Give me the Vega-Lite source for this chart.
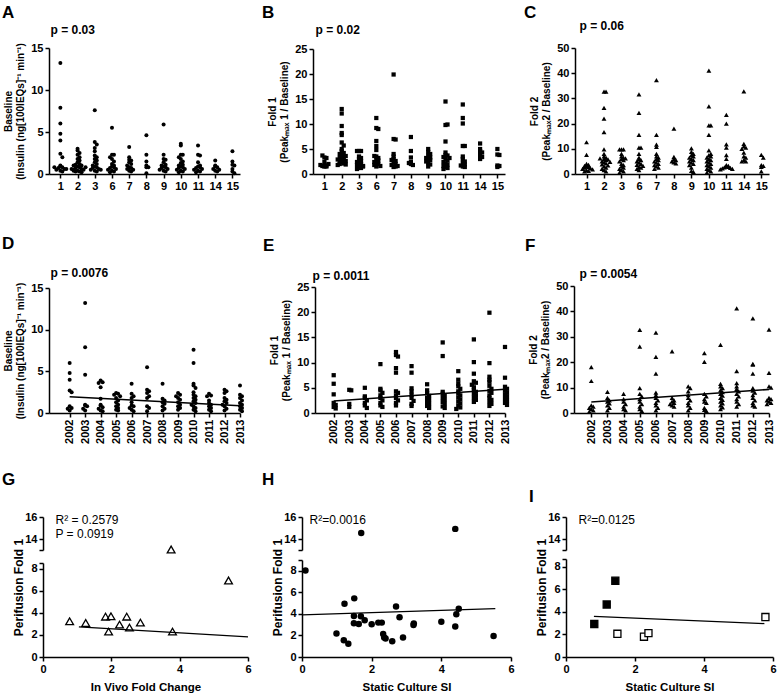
{
"$schema":"https://vega.github.io/schema/vega-lite/v6.json",
"autosize":{"type":"pad"},
"padding":{"left":2,"top":3,"right":0,"bottom":0},
"background":"white",
"config":{
 "font":"Liberation Sans",
 "view":{"stroke":null},
 "axis":{"grid":false,"domainColor":"black","domainWidth":1.5,"tickColor":"black","tickWidth":1.5,"tickSize":4,"labelFont":"Liberation Sans","labelFontSize":11,"labelFontWeight":"bold","labelColor":"black","labelPadding":2,"labelFlush":false,"labelOverlap":false,"titleFont":"Liberation Sans","titleFontSize":10,"titleFontWeight":"bold","titleColor":"black","titlePadding":5},
 "title":{"font":"Liberation Sans","fontWeight":"bold","color":"black","anchor":"start","frame":"group","baseline":"alphabetic","fontSize":17}
},
"datasets":{
"A":[{"c":"1","v":13.2},{"c":"1","v":7.9},{"c":"1","v":6.0},{"c":"1","v":4.8},{"c":"1","v":4.0},{"c":"1","v":2.4},{"c":"1","v":2.0},{"c":"1","v":1.0},{"c":"1","v":0.9},{"c":"1","v":0.8},{"c":"1","v":0.7},{"c":"1","v":0.6},{"c":"1","v":0.5},{"c":"1","v":0.4},{"c":"1","v":0.3},{"c":"1","v":0.6},{"c":"1","v":0.8},
{"c":"2","v":3.0},{"c":"2","v":2.8},{"c":"2","v":2.5},{"c":"2","v":2.3},{"c":"2","v":2.0},{"c":"2","v":1.8},{"c":"2","v":1.6},{"c":"2","v":1.4},{"c":"2","v":1.2},{"c":"2","v":1.1},{"c":"2","v":1.0},{"c":"2","v":0.9},{"c":"2","v":0.8},{"c":"2","v":0.7},{"c":"2","v":0.6},{"c":"2","v":0.5},{"c":"2","v":0.5},{"c":"2","v":0.4},{"c":"2","v":0.3},{"c":"2","v":0.3},{"c":"2","v":0.2},{"c":"2","v":0.6},{"c":"2","v":0.8},{"c":"2","v":1.0},{"c":"2","v":0.4},
{"c":"3","v":7.6},{"c":"3","v":3.8},{"c":"3","v":3.5},{"c":"3","v":3.1},{"c":"3","v":2.7},{"c":"3","v":2.2},{"c":"3","v":2.0},{"c":"3","v":1.8},{"c":"3","v":1.6},{"c":"3","v":1.4},{"c":"3","v":1.2},{"c":"3","v":1.0},{"c":"3","v":0.9},{"c":"3","v":0.8},{"c":"3","v":0.7},{"c":"3","v":0.6},{"c":"3","v":0.5},{"c":"3","v":0.4},{"c":"3","v":0.3},{"c":"3","v":0.5},
{"c":"6","v":5.5},{"c":"6","v":2.3},{"c":"6","v":2.3},{"c":"6","v":2.0},{"c":"6","v":1.8},{"c":"6","v":1.5},{"c":"6","v":1.2},{"c":"6","v":1.0},{"c":"6","v":0.9},{"c":"6","v":0.8},{"c":"6","v":0.7},{"c":"6","v":0.6},{"c":"6","v":0.5},{"c":"6","v":0.4},{"c":"6","v":0.3},{"c":"6","v":0.2},
{"c":"7","v":3.2},{"c":"7","v":2.0},{"c":"7","v":1.7},{"c":"7","v":1.6},{"c":"7","v":1.4},{"c":"7","v":1.2},{"c":"7","v":1.0},{"c":"7","v":0.8},{"c":"7","v":0.7},{"c":"7","v":0.6},{"c":"7","v":0.5},{"c":"7","v":0.4},{"c":"7","v":0.3},
{"c":"8","v":4.6},{"c":"8","v":2.3},{"c":"8","v":1.5},{"c":"8","v":1.0},{"c":"8","v":0.8},{"c":"8","v":0.8},{"c":"8","v":0.1},
{"c":"9","v":5.9},{"c":"9","v":2.3},{"c":"9","v":1.8},{"c":"9","v":1.7},{"c":"9","v":1.4},{"c":"9","v":1.1},{"c":"9","v":1.0},{"c":"9","v":0.9},{"c":"9","v":0.8},{"c":"9","v":0.7},{"c":"9","v":0.6},{"c":"9","v":0.5},{"c":"9","v":0.4},{"c":"9","v":0.3},
{"c":"10","v":3.6},{"c":"10","v":3.4},{"c":"10","v":2.3},{"c":"10","v":2.3},{"c":"10","v":2.0},{"c":"10","v":1.8},{"c":"10","v":1.5},{"c":"10","v":1.3},{"c":"10","v":1.1},{"c":"10","v":1.0},{"c":"10","v":0.9},{"c":"10","v":0.8},{"c":"10","v":0.7},{"c":"10","v":0.6},{"c":"10","v":0.5},{"c":"10","v":0.4},{"c":"10","v":0.3},{"c":"10","v":0.2},
{"c":"11","v":3.4},{"c":"11","v":2.3},{"c":"11","v":2.2},{"c":"11","v":1.4},{"c":"11","v":1.0},{"c":"11","v":0.9},{"c":"11","v":0.8},{"c":"11","v":0.7},{"c":"11","v":0.6},{"c":"11","v":0.5},{"c":"11","v":0.4},{"c":"11","v":0.3},{"c":"11","v":0.2},
{"c":"14","v":1.6},{"c":"14","v":1.0},{"c":"14","v":0.9},{"c":"14","v":0.8},{"c":"14","v":0.6},{"c":"14","v":0.5},{"c":"14","v":0.4},{"c":"14","v":0.3},
{"c":"15","v":2.7},{"c":"15","v":1.5},{"c":"15","v":1.1},{"c":"15","v":1.0},{"c":"15","v":0.6},{"c":"15","v":0.3},{"c":"15","v":0.1}],
"B":[{"c":"1","v":3.3},{"c":"1","v":3.2},{"c":"1","v":3.7},{"c":"1","v":1.5},{"c":"1","v":1.6},{"c":"1","v":1.7},{"c":"1","v":1.5},{"c":"1","v":1.6},{"c":"1","v":2.0},{"c":"1","v":1.8},{"c":"1","v":2.4},
{"c":"2","v":13.0},{"c":"2","v":12.1},{"c":"2","v":9.6},{"c":"2","v":8.2},{"c":"2","v":7.8},{"c":"2","v":6.3},{"c":"2","v":5.7},{"c":"2","v":5.0},{"c":"2","v":4.6},{"c":"2","v":4.2},{"c":"2","v":3.8},{"c":"2","v":3.5},{"c":"2","v":3.2},{"c":"2","v":3.0},{"c":"2","v":2.8},{"c":"2","v":2.5},{"c":"2","v":2.3},{"c":"2","v":2.1},{"c":"2","v":2.0},{"c":"2","v":1.9},{"c":"2","v":1.8},{"c":"2","v":3.6},{"c":"2","v":2.6},{"c":"2","v":4.0},{"c":"2","v":2.9},
{"c":"3","v":4.6},{"c":"3","v":4.6},{"c":"3","v":4.6},{"c":"3","v":3.5},{"c":"3","v":3.0},{"c":"3","v":2.6},{"c":"3","v":2.2},{"c":"3","v":2.0},{"c":"3","v":1.8},{"c":"3","v":1.6},{"c":"3","v":1.4},{"c":"3","v":1.2},{"c":"3","v":1.0},{"c":"3","v":1.5},{"c":"3","v":2.4},{"c":"3","v":3.2},
{"c":"6","v":11.2},{"c":"6","v":9.2},{"c":"6","v":9.0},{"c":"6","v":6.6},{"c":"6","v":5.6},{"c":"6","v":4.8},{"c":"6","v":3.5},{"c":"6","v":3.2},{"c":"6","v":3.0},{"c":"6","v":2.7},{"c":"6","v":2.4},{"c":"6","v":2.2},{"c":"6","v":2.0},{"c":"6","v":1.8},{"c":"6","v":1.6},{"c":"6","v":1.5},{"c":"6","v":3.6},
{"c":"7","v":19.9},{"c":"7","v":7.0},{"c":"7","v":6.9},{"c":"7","v":4.0},{"c":"7","v":3.5},{"c":"7","v":3.0},{"c":"7","v":2.6},{"c":"7","v":2.3},{"c":"7","v":2.0},{"c":"7","v":1.8},{"c":"7","v":1.6},{"c":"7","v":1.4},{"c":"7","v":1.5},{"c":"7","v":2.8},
{"c":"8","v":7.4},{"c":"8","v":4.6},{"c":"8","v":3.3},{"c":"8","v":2.4},{"c":"8","v":2.0},{"c":"8","v":1.8},{"c":"8","v":2.2},
{"c":"9","v":5.0},{"c":"9","v":4.4},{"c":"9","v":4.0},{"c":"9","v":3.6},{"c":"9","v":3.3},{"c":"9","v":3.0},{"c":"9","v":2.8},{"c":"9","v":2.5},{"c":"9","v":2.2},{"c":"9","v":1.9},{"c":"9","v":1.5},{"c":"9","v":3.2},
{"c":"10","v":14.5},{"c":"10","v":9.8},{"c":"10","v":9.9},{"c":"10","v":6.5},{"c":"10","v":4.3},{"c":"10","v":3.8},{"c":"10","v":3.7},{"c":"10","v":3.4},{"c":"10","v":3.0},{"c":"10","v":2.7},{"c":"10","v":2.4},{"c":"10","v":2.1},{"c":"10","v":1.9},{"c":"10","v":1.6},{"c":"10","v":1.4},{"c":"10","v":1.2},{"c":"10","v":1.0},{"c":"10","v":3.2},
{"c":"11","v":13.9},{"c":"11","v":11.2},{"c":"11","v":10.1},{"c":"11","v":5.6},{"c":"11","v":5.6},{"c":"11","v":3.5},{"c":"11","v":3.0},{"c":"11","v":2.5},{"c":"11","v":2.2},{"c":"11","v":1.9},{"c":"11","v":1.7},{"c":"11","v":1.5},{"c":"11","v":1.4},
{"c":"14","v":6.1},{"c":"14","v":5.0},{"c":"14","v":4.6},{"c":"14","v":4.3},{"c":"14","v":3.8},{"c":"14","v":3.4},{"c":"14","v":3.0},
{"c":"15","v":5.0},{"c":"15","v":3.9},{"c":"15","v":3.8},{"c":"15","v":1.7},{"c":"15","v":1.6},{"c":"15","v":1.4}],
"C":[{"c":"1","v":12.6},{"c":"1","v":7.6},{"c":"1","v":4.0},{"c":"1","v":3.6},{"c":"1","v":3.2},{"c":"1","v":3.0},{"c":"1","v":2.8},{"c":"1","v":2.5},{"c":"1","v":2.2},{"c":"1","v":2.0},{"c":"1","v":1.8},{"c":"1","v":1.5},{"c":"1","v":1.2},{"c":"1","v":1.0},
{"c":"2","v":32.7},{"c":"2","v":32.7},{"c":"2","v":26.2},{"c":"2","v":22.0},{"c":"2","v":16.6},{"c":"2","v":9.8},{"c":"2","v":8.0},{"c":"2","v":7.0},{"c":"2","v":6.5},{"c":"2","v":6.0},{"c":"2","v":5.5},{"c":"2","v":5.0},{"c":"2","v":4.6},{"c":"2","v":4.2},{"c":"2","v":3.8},{"c":"2","v":3.4},{"c":"2","v":3.0},{"c":"2","v":2.5},{"c":"2","v":2.0},{"c":"2","v":1.5},{"c":"2","v":1.0},{"c":"2","v":5.8},{"c":"2","v":6.2},{"c":"2","v":4.8},
{"c":"3","v":9.8},{"c":"3","v":9.8},{"c":"3","v":9.8},{"c":"3","v":8.0},{"c":"3","v":7.0},{"c":"3","v":6.5},{"c":"3","v":6.0},{"c":"3","v":5.5},{"c":"3","v":5.0},{"c":"3","v":4.0},{"c":"3","v":3.5},{"c":"3","v":3.0},{"c":"3","v":2.5},{"c":"3","v":2.0},{"c":"3","v":1.5},{"c":"3","v":1.0},{"c":"3","v":0.5},{"c":"3","v":6.2},
{"c":"6","v":31.6},{"c":"6","v":24.3},{"c":"6","v":15.5},{"c":"6","v":10.5},{"c":"6","v":10.5},{"c":"6","v":8.0},{"c":"6","v":6.5},{"c":"6","v":6.0},{"c":"6","v":5.5},{"c":"6","v":5.0},{"c":"6","v":4.5},{"c":"6","v":4.0},{"c":"6","v":3.6},{"c":"6","v":3.2},{"c":"6","v":2.8},{"c":"6","v":2.5},{"c":"6","v":2.0},{"c":"6","v":1.5},
{"c":"7","v":37.3},{"c":"7","v":15.5},{"c":"7","v":11.7},{"c":"7","v":10.8},{"c":"7","v":8.0},{"c":"7","v":7.0},{"c":"7","v":6.5},{"c":"7","v":6.0},{"c":"7","v":5.5},{"c":"7","v":5.0},{"c":"7","v":4.5},{"c":"7","v":4.0},{"c":"7","v":3.5},{"c":"7","v":3.0},{"c":"7","v":2.5},{"c":"7","v":2.0},
{"c":"8","v":18.0},{"c":"8","v":6.8},{"c":"8","v":6.0},{"c":"8","v":5.5},{"c":"8","v":5.0},{"c":"8","v":4.6},{"c":"8","v":4.2},
{"c":"9","v":10.2},{"c":"9","v":8.8},{"c":"9","v":8.0},{"c":"9","v":7.5},{"c":"9","v":7.0},{"c":"9","v":6.5},{"c":"9","v":6.0},{"c":"9","v":5.5},{"c":"9","v":5.0},{"c":"9","v":4.5},{"c":"9","v":4.0},{"c":"9","v":3.5},{"c":"9","v":2.5},{"c":"9","v":1.2},{"c":"9","v":0.8},
{"c":"10","v":41.0},{"c":"10","v":26.8},{"c":"10","v":19.3},{"c":"10","v":19.3},{"c":"10","v":15.5},{"c":"10","v":9.4},{"c":"10","v":8.0},{"c":"10","v":7.5},{"c":"10","v":7.0},{"c":"10","v":6.5},{"c":"10","v":6.0},{"c":"10","v":5.5},{"c":"10","v":5.0},{"c":"10","v":4.5},{"c":"10","v":4.0},{"c":"10","v":3.5},{"c":"10","v":3.0},{"c":"10","v":2.5},{"c":"10","v":2.0},{"c":"10","v":1.5},{"c":"10","v":1.0},{"c":"10","v":0.5},
{"c":"11","v":23.5},{"c":"11","v":20.0},{"c":"11","v":11.8},{"c":"11","v":10.5},{"c":"11","v":7.5},{"c":"11","v":6.0},{"c":"11","v":3.5},{"c":"11","v":3.2},{"c":"11","v":3.0},{"c":"11","v":2.8},{"c":"11","v":2.6},{"c":"11","v":2.4},{"c":"11","v":2.2},{"c":"11","v":2.0},{"c":"11","v":1.8},
{"c":"14","v":32.8},{"c":"14","v":12.0},{"c":"14","v":11.0},{"c":"14","v":10.5},{"c":"14","v":10.0},{"c":"14","v":8.5},{"c":"14","v":7.0},{"c":"14","v":6.5},{"c":"14","v":5.5},{"c":"14","v":5.0},{"c":"14","v":5.0},
{"c":"15","v":7.6},{"c":"15","v":6.5},{"c":"15","v":3.5},{"c":"15","v":3.2},{"c":"15","v":2.8},{"c":"15","v":1.0}],
"D":[{"yr":2002,"v":6.0},{"yr":2002,"v":4.8},{"yr":2002,"v":4.0},{"yr":2002,"v":2.7},{"yr":2002,"v":2.5},{"yr":2002,"v":0.8},{"yr":2002,"v":0.6},{"yr":2002,"v":0.5},{"yr":2002,"v":0.3},
{"yr":2003,"v":13.2},{"yr":2003,"v":7.9},{"yr":2003,"v":4.6},{"yr":2003,"v":1.0},{"yr":2003,"v":0.9},{"yr":2003,"v":0.8},{"yr":2003,"v":0.5},{"yr":2003,"v":0.3},
{"yr":2004,"v":3.9},{"yr":2004,"v":3.7},{"yr":2004,"v":3.6},{"yr":2004,"v":3.1},{"yr":2004,"v":1.7},{"yr":2004,"v":1.0},{"yr":2004,"v":0.9},{"yr":2004,"v":0.7},{"yr":2004,"v":0.5},{"yr":2004,"v":0.3},{"yr":2004,"v":0.2},
{"yr":2005,"v":2.4},{"yr":2005,"v":2.3},{"yr":2005,"v":2.2},{"yr":2005,"v":2.0},{"yr":2005,"v":1.8},{"yr":2005,"v":1.5},{"yr":2005,"v":1.3},{"yr":2005,"v":1.0},{"yr":2005,"v":0.8},{"yr":2005,"v":0.6},{"yr":2005,"v":0.4},{"yr":2005,"v":0.3},
{"yr":2006,"v":3.5},{"yr":2006,"v":2.3},{"yr":2006,"v":2.0},{"yr":2006,"v":1.8},{"yr":2006,"v":1.3},{"yr":2006,"v":0.9},{"yr":2006,"v":0.8},{"yr":2006,"v":0.6},{"yr":2006,"v":0.4},{"yr":2006,"v":0.2},
{"yr":2007,"v":5.5},{"yr":2007,"v":2.8},{"yr":2007,"v":2.6},{"yr":2007,"v":2.4},{"yr":2007,"v":2.0},{"yr":2007,"v":1.8},{"yr":2007,"v":0.8},{"yr":2007,"v":0.6},{"yr":2007,"v":0.2},
{"yr":2008,"v":3.5},{"yr":2008,"v":1.7},{"yr":2008,"v":1.5},{"yr":2008,"v":1.3},{"yr":2008,"v":1.1},{"yr":2008,"v":0.8},{"yr":2008,"v":0.5},{"yr":2008,"v":0.3},
{"yr":2009,"v":2.4},{"yr":2009,"v":2.2},{"yr":2009,"v":2.0},{"yr":2009,"v":1.8},{"yr":2009,"v":1.6},{"yr":2009,"v":1.3},{"yr":2009,"v":1.0},{"yr":2009,"v":0.8},{"yr":2009,"v":0.6},{"yr":2009,"v":0.4},
{"yr":2010,"v":7.6},{"yr":2010,"v":6.0},{"yr":2010,"v":3.5},{"yr":2010,"v":3.3},{"yr":2010,"v":3.0},{"yr":2010,"v":2.5},{"yr":2010,"v":2.2},{"yr":2010,"v":2.0},{"yr":2010,"v":1.8},{"yr":2010,"v":1.6},{"yr":2010,"v":1.4},{"yr":2010,"v":1.2},{"yr":2010,"v":1.0},{"yr":2010,"v":0.8},{"yr":2010,"v":0.6},{"yr":2010,"v":0.4},{"yr":2010,"v":0.2},
{"yr":2011,"v":2.3},{"yr":2011,"v":2.1},{"yr":2011,"v":2.0},{"yr":2011,"v":1.5},{"yr":2011,"v":1.2},{"yr":2011,"v":1.0},{"yr":2011,"v":0.8},{"yr":2011,"v":0.6},{"yr":2011,"v":0.4},{"yr":2011,"v":0.2},
{"yr":2012,"v":2.8},{"yr":2012,"v":2.6},{"yr":2012,"v":2.4},{"yr":2012,"v":1.8},{"yr":2012,"v":1.6},{"yr":2012,"v":1.4},{"yr":2012,"v":1.2},{"yr":2012,"v":1.0},{"yr":2012,"v":0.8},{"yr":2012,"v":0.5},{"yr":2012,"v":0.3},
{"yr":2013,"v":3.3},{"yr":2013,"v":2.2},{"yr":2013,"v":2.0},{"yr":2013,"v":1.8},{"yr":2013,"v":1.5},{"yr":2013,"v":1.2},{"yr":2013,"v":1.0},{"yr":2013,"v":0.8},{"yr":2013,"v":0.6},{"yr":2013,"v":0.4},{"yr":2013,"v":0.2}],
"E":[{"yr":2002,"v":7.5},{"yr":2002,"v":5.8},{"yr":2002,"v":3.7},{"yr":2002,"v":2.0},{"yr":2002,"v":1.6},{"yr":2002,"v":1.2},{"yr":2002,"v":0.9},
{"yr":2003,"v":4.6},{"yr":2003,"v":4.5},{"yr":2003,"v":1.8},{"yr":2003,"v":1.2},
{"yr":2004,"v":5.0},{"yr":2004,"v":3.3},{"yr":2004,"v":3.0},{"yr":2004,"v":2.5},{"yr":2004,"v":2.0},{"yr":2004,"v":1.5},{"yr":2004,"v":1.0},
{"yr":2005,"v":9.7},{"yr":2005,"v":4.8},{"yr":2005,"v":4.5},{"yr":2005,"v":4.0},{"yr":2005,"v":3.5},{"yr":2005,"v":3.0},{"yr":2005,"v":2.5},{"yr":2005,"v":2.0},{"yr":2005,"v":1.5},{"yr":2005,"v":1.2},
{"yr":2006,"v":12.1},{"yr":2006,"v":11.5},{"yr":2006,"v":11.2},{"yr":2006,"v":8.9},{"yr":2006,"v":8.0},{"yr":2006,"v":4.3},{"yr":2006,"v":4.0},{"yr":2006,"v":3.5},{"yr":2006,"v":3.0},{"yr":2006,"v":2.5},{"yr":2006,"v":2.0},{"yr":2006,"v":1.5},
{"yr":2007,"v":9.3},{"yr":2007,"v":8.0},{"yr":2007,"v":4.9},{"yr":2007,"v":4.3},{"yr":2007,"v":3.6},{"yr":2007,"v":3.0},{"yr":2007,"v":2.4},{"yr":2007,"v":1.8},{"yr":2007,"v":1.4},
{"yr":2008,"v":5.7},{"yr":2008,"v":4.5},{"yr":2008,"v":3.9},{"yr":2008,"v":3.4},{"yr":2008,"v":3.0},{"yr":2008,"v":2.6},{"yr":2008,"v":2.2},{"yr":2008,"v":1.8},{"yr":2008,"v":1.4},{"yr":2008,"v":1.0},
{"yr":2009,"v":14.0},{"yr":2009,"v":11.3},{"yr":2009,"v":4.2},{"yr":2009,"v":3.8},{"yr":2009,"v":3.4},{"yr":2009,"v":3.0},{"yr":2009,"v":2.6},{"yr":2009,"v":2.2},{"yr":2009,"v":1.8},{"yr":2009,"v":1.3},{"yr":2009,"v":1.0},
{"yr":2010,"v":8.3},{"yr":2010,"v":6.6},{"yr":2010,"v":5.8},{"yr":2010,"v":5.3},{"yr":2010,"v":4.8},{"yr":2010,"v":4.3},{"yr":2010,"v":3.9},{"yr":2010,"v":3.5},{"yr":2010,"v":3.1},{"yr":2010,"v":2.7},{"yr":2010,"v":2.3},{"yr":2010,"v":1.9},{"yr":2010,"v":1.5},{"yr":2010,"v":1.1},{"yr":2010,"v":0.8},
{"yr":2011,"v":14.6},{"yr":2011,"v":10.1},{"yr":2011,"v":7.8},{"yr":2011,"v":6.3},{"yr":2011,"v":6.0},{"yr":2011,"v":5.6},{"yr":2011,"v":5.1},{"yr":2011,"v":4.6},{"yr":2011,"v":4.2},{"yr":2011,"v":3.8},{"yr":2011,"v":3.4},{"yr":2011,"v":3.0},{"yr":2011,"v":2.6},{"yr":2011,"v":2.2},
{"yr":2012,"v":19.9},{"yr":2012,"v":9.9},{"yr":2012,"v":7.2},{"yr":2012,"v":6.6},{"yr":2012,"v":6.2},{"yr":2012,"v":5.4},{"yr":2012,"v":4.8},{"yr":2012,"v":4.4},{"yr":2012,"v":4.0},{"yr":2012,"v":3.5},{"yr":2012,"v":3.0},{"yr":2012,"v":2.6},{"yr":2012,"v":2.2},{"yr":2012,"v":1.8},{"yr":2012,"v":1.4},
{"yr":2013,"v":13.1},{"yr":2013,"v":7.0},{"yr":2013,"v":5.2},{"yr":2013,"v":4.8},{"yr":2013,"v":4.4},{"yr":2013,"v":4.0},{"yr":2013,"v":3.6},{"yr":2013,"v":3.2},{"yr":2013,"v":2.8},{"yr":2013,"v":2.4},{"yr":2013,"v":2.0},{"yr":2013,"v":1.6}],
"F":[{"yr":2002,"v":18.1},{"yr":2002,"v":12.6},{"yr":2002,"v":3.0},{"yr":2002,"v":2.5},{"yr":2002,"v":2.0},{"yr":2002,"v":1.5},{"yr":2002,"v":1.0},{"yr":2002,"v":0.5},
{"yr":2003,"v":8.3},{"yr":2003,"v":6.0},{"yr":2003,"v":5.0},{"yr":2003,"v":4.5},{"yr":2003,"v":3.8},{"yr":2003,"v":3.0},{"yr":2003,"v":2.0},{"yr":2003,"v":1.0},
{"yr":2004,"v":7.5},{"yr":2004,"v":5.5},{"yr":2004,"v":4.5},{"yr":2004,"v":3.5},{"yr":2004,"v":2.5},{"yr":2004,"v":1.5},{"yr":2004,"v":1.0},
{"yr":2005,"v":32.7},{"yr":2005,"v":26.1},{"yr":2005,"v":9.8},{"yr":2005,"v":7.5},{"yr":2005,"v":6.5},{"yr":2005,"v":5.5},{"yr":2005,"v":4.5},{"yr":2005,"v":3.5},{"yr":2005,"v":2.5},{"yr":2005,"v":1.5},{"yr":2005,"v":0.8},
{"yr":2006,"v":31.6},{"yr":2006,"v":22.1},{"yr":2006,"v":15.5},{"yr":2006,"v":8.0},{"yr":2006,"v":7.0},{"yr":2006,"v":6.0},{"yr":2006,"v":5.0},{"yr":2006,"v":4.0},{"yr":2006,"v":3.0},{"yr":2006,"v":2.0},{"yr":2006,"v":1.0},
{"yr":2007,"v":24.3},{"yr":2007,"v":6.0},{"yr":2007,"v":5.0},{"yr":2007,"v":4.5},{"yr":2007,"v":4.0},{"yr":2007,"v":3.5},{"yr":2007,"v":3.0},{"yr":2007,"v":2.5},
{"yr":2008,"v":10.5},{"yr":2008,"v":9.8},{"yr":2008,"v":8.5},{"yr":2008,"v":7.0},{"yr":2008,"v":6.0},{"yr":2008,"v":5.0},{"yr":2008,"v":4.0},{"yr":2008,"v":3.0},{"yr":2008,"v":2.0},{"yr":2008,"v":1.0},
{"yr":2009,"v":23.6},{"yr":2009,"v":20.1},{"yr":2009,"v":7.5},{"yr":2009,"v":6.5},{"yr":2009,"v":5.5},{"yr":2009,"v":4.5},{"yr":2009,"v":4.0},{"yr":2009,"v":2.0},{"yr":2009,"v":1.2},{"yr":2009,"v":0.8},
{"yr":2010,"v":26.8},{"yr":2010,"v":11.5},{"yr":2010,"v":10.5},{"yr":2010,"v":9.8},{"yr":2010,"v":9.0},{"yr":2010,"v":8.2},{"yr":2010,"v":7.5},{"yr":2010,"v":6.8},{"yr":2010,"v":6.0},{"yr":2010,"v":5.2},{"yr":2010,"v":4.5},{"yr":2010,"v":3.8},{"yr":2010,"v":3.0},{"yr":2010,"v":2.2},{"yr":2010,"v":1.5},
{"yr":2011,"v":41.2},{"yr":2011,"v":16.5},{"yr":2011,"v":11.8},{"yr":2011,"v":10.5},{"yr":2011,"v":9.5},{"yr":2011,"v":8.5},{"yr":2011,"v":7.5},{"yr":2011,"v":6.5},{"yr":2011,"v":5.5},{"yr":2011,"v":4.5},{"yr":2011,"v":3.5},{"yr":2011,"v":2.5},
{"yr":2012,"v":37.3},{"yr":2012,"v":19.3},{"yr":2012,"v":19.0},{"yr":2012,"v":15.5},{"yr":2012,"v":9.8},{"yr":2012,"v":8.8},{"yr":2012,"v":8.0},{"yr":2012,"v":7.0},{"yr":2012,"v":6.0},{"yr":2012,"v":5.0},{"yr":2012,"v":4.0},{"yr":2012,"v":3.0},{"yr":2012,"v":2.5},
{"yr":2013,"v":32.8},{"yr":2013,"v":15.8},{"yr":2013,"v":10.5},{"yr":2013,"v":10.0},{"yr":2013,"v":6.0},{"yr":2013,"v":5.5},{"yr":2013,"v":5.0},{"yr":2013,"v":4.5},{"yr":2013,"v":4.0},{"yr":2013,"v":3.5}],
"Dl":[{"yr":2002,"v":1.96},{"yr":2013,"v":0.88}],
"El":[{"yr":2002,"v":2.38},{"yr":2013,"v":4.7}],
"Fl":[{"yr":2002,"v":4.33},{"yr":2013,"v":9.3}],
"G":[{"x":0.78,"y":3.23},{"x":1.25,"y":3.08},{"x":1.83,"y":3.65},{"x":1.99,"y":3.68},{"x":1.92,"y":2.3},{"x":2.24,"y":2.93},{"x":2.45,"y":3.65},{"x":2.53,"y":2.66},{"x":2.85,"y":3.11},{"x":3.79,"y":2.3},{"x":5.43,"y":6.92},{"x":3.75,"y":13.05}],
"Gl":[{"x":1.05,"y":2.72},{"x":6,"y":1.82}],
"H":[{"x":0.1,"y":8.03},{"x":1.22,"y":4.94},{"x":1.5,"y":5.44},{"x":0.99,"y":2.19},{"x":1.2,"y":1.56},{"x":1.33,"y":1.22},{"x":1.49,"y":3.81},{"x":1.49,"y":3.13},{"x":1.63,"y":3.06},{"x":1.69,"y":3.78},{"x":1.8,"y":3.4},{"x":2.0,"y":3.03},{"x":2.19,"y":3.19},{"x":2.29,"y":3.19},{"x":2.33,"y":2.13},{"x":2.36,"y":1.81},{"x":2.4,"y":1.72},{"x":2.59,"y":1.47},{"x":2.7,"y":4.69},{"x":2.8,"y":3.69},{"x":2.9,"y":1.81},{"x":3.2,"y":2.97},{"x":3.21,"y":3.1},{"x":4.0,"y":3.28},{"x":4.4,"y":2.84},{"x":4.43,"y":3.97},{"x":4.5,"y":4.47},{"x":5.5,"y":1.94},{"x":1.7,"y":14.54},{"x":4.4,"y":14.92}],
"Hl":[{"x":0,"y":3.9},{"x":5.55,"y":4.48}],
"I":[{"x":0.82,"y":2.93,"f":"filled"},{"x":1.18,"y":4.66,"f":"filled"},{"x":1.43,"y":6.77,"f":"filled"},{"x":1.49,"y":2.06,"f":"open"},{"x":2.26,"y":1.8,"f":"open"},{"x":2.39,"y":2.12,"f":"open"},{"x":5.78,"y":3.55,"f":"open"}],
"Il":[{"x":0.81,"y":3.6},{"x":5.75,"y":2.97}]
},
"bounds":"flush",
"columns":3,
"spacing":{"row":104,"column":50},
"concat":[
 {"width":209,"height":126,"title":{"text":"A","dx":-41,"offset":1.4},
  "data":{"name":"A"},
  "transform":[{"bin":{"step":0.5},"field":"v","as":"b"},{"window":[{"op":"row_number","as":"r"}],"groupby":["c","b"]}],
  "mark":{"type":"circle","size":16,"color":"black","opacity":1,"clip":false},
  "encoding":{
   "x":{"field":"c","type":"ordinal","scale":{"type":"point","domain":["1","2","3","6","7","8","9","10","11","14","15"],"range":[6,197],"padding":0.55,"align":0.6},"axis":{"labelAngle":0,"title":"p = 0.03","titleFontSize":12,"titleX":7,"titleY":-141,"titleAngle":0,"titleAlign":"left","titleBaseline":"alphabetic"}},
   "xOffset":{"field":"r","type":"ordinal","scale":{"domain":[13,11,9,7,5,3,1,2,4,6,8,10,12],"range":[-13,13]}},
   "y":{"field":"v","type":"quantitative","scale":{"domain":[0,15],"nice":false},"axis":{"offset":-6,"values":[0,5,10,15],"title":["Baseline","(Insulin (ng[100IEQs]⁻¹ min⁻¹)"]}}}},
 {"width":214,"height":126,"title":{"text":"B","dx":-40,"offset":1.4},
  "data":{"name":"B"},
  "transform":[{"bin":{"step":0.8},"field":"v","as":"b"},{"window":[{"op":"row_number","as":"r"}],"groupby":["c","b"]}],
  "mark":{"type":"square","size":18,"color":"black","opacity":1,"clip":false},
  "encoding":{
   "x":{"field":"c","type":"ordinal","scale":{"type":"point","domain":["1","2","3","6","7","8","9","10","11","14","15"],"range":[11,203],"padding":0.55,"align":0.6},"axis":{"labelAngle":0,"title":"p = 0.02","titleFontSize":12,"titleX":13,"titleY":-141,"titleAngle":0,"titleAlign":"left","titleBaseline":"alphabetic"}},
   "xOffset":{"field":"r","type":"ordinal","scale":{"domain":[13,11,9,7,5,3,1,2,4,6,8,10,12],"range":[-13,13]}},
   "y":{"field":"v","type":"quantitative","scale":{"domain":[0,25],"nice":false,"range":[126,1]},"axis":{"offset":-11,"values":[0,5,10,15,20,25],"title":["Fold 1","(Peakₘₐₓ 1 / Baseline)"]}}}},
 {"width":207,"height":126,"title":{"text":"C","dx":-42,"offset":-2.6},
  "data":{"name":"C"},
  "transform":[{"bin":{"step":1.6},"field":"v","as":"b"},{"window":[{"op":"row_number","as":"r"}],"groupby":["c","b"]}],
  "mark":{"type":"point","shape":"triangle-up","filled":true,"size":24,"color":"black","opacity":1,"clip":false},
  "encoding":{
   "x":{"field":"c","type":"ordinal","scale":{"type":"point","domain":["1","2","3","6","7","8","9","10","11","14","15"],"range":[9,203],"padding":0.55,"align":0.6},"axis":{"labelAngle":0,"title":"p = 0.06","titleFontSize":12,"titleX":13,"titleY":-145,"titleAngle":0,"titleAlign":"left","titleBaseline":"alphabetic"}},
   "xOffset":{"field":"r","type":"ordinal","scale":{"domain":[13,11,9,7,5,3,1,2,4,6,8,10,12],"range":[-13,13]}},
   "y":{"field":"v","type":"quantitative","scale":{"domain":[0,50],"nice":false},"axis":{"offset":-9,"values":[0,10,20,30,40,50],"title":["Fold 2","(Peakₘₐₓ2 / Baseline)"]}}}},
 {"width":209,"height":135,"title":{"text":"D","dx":-41,"offset":13.4},
  "encoding":{
   "x":{"field":"yr","type":"ordinal","scale":{"type":"point","domain":[2002,2003,2004,2005,2006,2007,2008,2009,2010,2011,2012,2013],"range":[6,197],"padding":0.667,"align":1},"axis":{"labelAngle":-90,"title":"p = 0.0076","titleFontSize":12,"titleX":7,"titleY":-137,"titleAngle":0,"titleAlign":"left","titleBaseline":"alphabetic"}},
   "y":{"field":"v","type":"quantitative","scale":{"domain":[0,15],"nice":false,"range":[135,10]},"axis":{"offset":-6,"values":[0,5,10,15],"title":["Baseline","(Insulin (ng[100IEQs]⁻¹ min⁻¹)"]}}},
  "layer":[
   {"data":{"name":"D"},
    "transform":[{"bin":{"step":0.5},"field":"v","as":"b"},{"window":[{"op":"row_number","as":"r"}],"groupby":["yr","b"]}],
    "mark":{"type":"circle","size":16,"color":"black","opacity":1,"clip":false},
    "encoding":{"xOffset":{"field":"r","type":"ordinal","scale":{"domain":[13,11,9,7,5,3,1,2,4,6,8,10,12],"range":[-7.8,7.8]}}}},
   {"data":{"name":"Dl"},"mark":{"type":"line","color":"black","strokeWidth":1.5},"encoding":{}}
  ]},
 {"width":214,"height":135,"title":{"text":"E","dx":-39,"offset":14.4},
  "encoding":{
   "x":{"field":"yr","type":"ordinal","scale":{"type":"point","domain":[2002,2003,2004,2005,2006,2007,2008,2009,2010,2011,2012,2013],"range":[13,203],"padding":0.6,"align":1},"axis":{"labelAngle":-90,"title":"p = 0.0011","titleFontSize":12,"titleX":10,"titleY":-134,"titleAngle":0,"titleAlign":"left","titleBaseline":"alphabetic"}},
   "y":{"field":"v","type":"quantitative","scale":{"domain":[0,25],"nice":false,"range":[135,9]},"axis":{"offset":-13,"values":[0,5,10,15,20,25],"title":["Fold 1","(Peakₘₐₓ 1 / Baseline)"]}}},
  "layer":[
   {"data":{"name":"E"},
    "transform":[{"bin":{"step":0.8},"field":"v","as":"b"},{"window":[{"op":"row_number","as":"r"}],"groupby":["yr","b"]}],
    "mark":{"type":"square","size":18,"color":"black","opacity":1,"clip":false},
    "encoding":{"xOffset":{"field":"r","type":"ordinal","scale":{"domain":[13,11,9,7,5,3,1,2,4,6,8,10,12],"range":[-7.8,7.8]}}}},
   {"data":{"name":"El"},"mark":{"type":"line","color":"black","strokeWidth":1.5},"encoding":{}}
  ]},
 {"width":207,"height":135,"title":{"text":"F","dx":-41,"offset":12.4},
  "encoding":{
   "x":{"field":"yr","type":"ordinal","scale":{"type":"point","domain":[2002,2003,2004,2005,2006,2007,2008,2009,2010,2011,2012,2013],"range":[8,203],"padding":0.535,"align":1},"axis":{"labelAngle":-90,"title":"p = 0.0054","titleFontSize":12,"titleX":13,"titleY":-136,"titleAngle":0,"titleAlign":"left","titleBaseline":"alphabetic"}},
   "y":{"field":"v","type":"quantitative","scale":{"domain":[0,50],"nice":false,"range":[135,8]},"axis":{"offset":-8,"values":[0,10,20,30,40,50],"title":["Fold 2","(Peakₘₐₓ2 / Baseline)"]}}},
  "layer":[
   {"data":{"name":"F"},
    "transform":[{"bin":{"step":1.6},"field":"v","as":"b"},{"window":[{"op":"row_number","as":"r"}],"groupby":["yr","b"]}],
    "mark":{"type":"point","shape":"triangle-up","filled":true,"size":24,"color":"black","opacity":1,"clip":false},
    "encoding":{"xOffset":{"field":"r","type":"ordinal","scale":{"domain":[13,11,9,7,5,3,1,2,4,6,8,10,12],"range":[-7.8,7.8]}}}},
   {"data":{"name":"Fl"},"mark":{"type":"line","color":"black","strokeWidth":1.5},"encoding":{}}
  ]},
 {"width":209,"height":140,"title":{"text":"G","dx":-41,"offset":22.5},
  "resolve":{"scale":{"y":"independent"}},
  "encoding":{"x":{"field":"x","type":"quantitative","scale":{"domain":[0,6],"nice":false,"range":[0,205]},"axis":{"values":[0,2,4,6],"title":"In Vivo Fold Change","titleFontSize":11.5,"titlePadding":7}}},
  "layer":[
   {"data":{"name":"G"},"transform":[{"filter":"datum.y < 12"}],
    "mark":{"type":"point","shape":"triangle-up","filled":false,"size":60,"color":"black","strokeWidth":1.3,"opacity":1,"clip":false},
    "encoding":{"y":{"field":"y","type":"quantitative","scale":{"domain":[0,8.5],"nice":false,"range":[140,46]},"axis":{"orient":"left","values":[0,2,4,6,8,8.5],"labelExpr":"datum.value == 8.5 ? '' : datum.label","title":"Perifusion Fold 1","titleFontSize":12,"titleY":70}}}},
   {"data":{"name":"Gl"},"mark":{"type":"line","color":"black","strokeWidth":1.3},
    "encoding":{"y":{"field":"y","type":"quantitative","scale":{"domain":[0,8.5],"nice":false,"range":[140,46]},"axis":null}}},
   {"data":{"name":"G"},"transform":[{"filter":"datum.y >= 12"}],
    "mark":{"type":"point","shape":"triangle-up","filled":false,"size":60,"color":"black","strokeWidth":1.3,"opacity":1,"clip":false},
    "encoding":{"y":{"field":"y","type":"quantitative","scale":{"domain":[13,16],"nice":false,"zero":false,"range":[33,0]},"axis":{"orient":"left","values":[13,14,16],"labelExpr":"datum.value == 13 ? '' : datum.label","title":["R² = 0.2579","P = 0.0919"],"titleAngle":0,"titleX":12,"titleY":6,"titleAlign":"left","titleBaseline":"alphabetic","titleFontWeight":"normal","titleFontSize":12,"titleLineHeight":14}}}}
  ]},
 {"width":214,"height":140,"title":{"text":"H","dx":-40,"offset":22.5},
  "resolve":{"scale":{"y":"independent"}},
  "encoding":{"x":{"field":"x","type":"quantitative","scale":{"domain":[0,6],"nice":false,"range":[0,209]},"axis":{"values":[0,2,4,6],"title":"Static Culture SI","titleFontSize":11.5,"titlePadding":7}}},
  "layer":[
   {"data":{"name":"H"},"transform":[{"filter":"datum.y < 12"}],
    "mark":{"type":"circle","size":42,"color":"black","opacity":1,"clip":false},
    "encoding":{"y":{"field":"y","type":"quantitative","scale":{"domain":[0,9],"nice":false,"range":[140,43]},"axis":{"orient":"left","values":[0,2,4,6,8,9],"labelExpr":"datum.value == 9 ? '' : datum.label","title":"Perifusion Fold 1","titleFontSize":12,"titleY":70}}}},
   {"data":{"name":"Hl"},"mark":{"type":"line","color":"black","strokeWidth":1.3},
    "encoding":{"y":{"field":"y","type":"quantitative","scale":{"domain":[0,9],"nice":false,"range":[140,43]},"axis":null}}},
   {"data":{"name":"H"},"transform":[{"filter":"datum.y >= 12"}],
    "mark":{"type":"circle","size":42,"color":"black","opacity":1,"clip":false},
    "encoding":{"y":{"field":"y","type":"quantitative","scale":{"domain":[13,16],"nice":false,"zero":false,"range":[33,0]},"axis":{"orient":"left","values":[13,14,16],"labelExpr":"datum.value == 13 ? '' : datum.label","title":"R²=0.0016","titleAngle":0,"titleX":7,"titleY":6,"titleAlign":"left","titleBaseline":"alphabetic","titleFontWeight":"normal","titleFontSize":12}}}}
  ]},
 {"width":207,"height":140,"title":{"text":"I","dx":-37,"offset":5.5},
  "resolve":{"scale":{"y":"independent"}},
  "encoding":{"x":{"field":"x","type":"quantitative","scale":{"domain":[0,6],"nice":false,"range":[0,207]},"axis":{"values":[0,2,4,6],"title":"Static Culture SI","titleFontSize":11.5,"titlePadding":7}}},
  "layer":[
   {"data":{"name":"I"},"transform":[{"filter":"datum.y < 12"}],
    "mark":{"type":"square","size":50,"stroke":"black","strokeWidth":1.3,"opacity":1,"clip":false},
    "encoding":{"y":{"field":"y","type":"quantitative","scale":{"domain":[0,8.7],"nice":false,"range":[140,42]},"axis":{"orient":"left","values":[0,2,4,6,8,8.7],"labelExpr":"datum.value == 8.7 ? '' : datum.label","title":"Perifusion Fold 1","titleFontSize":12,"titleY":70}},
     "fill":{"field":"f","type":"nominal","scale":{"domain":["filled","open"],"range":["black","white"]},"legend":null}}},
   {"data":{"name":"Il"},"mark":{"type":"line","color":"black","strokeWidth":1.3},
    "encoding":{"y":{"field":"y","type":"quantitative","scale":{"domain":[0,8.7],"nice":false,"range":[140,42]},"axis":null}}},
   {"data":{"name":"I"},"transform":[{"filter":"datum.y >= 12"}],
    "mark":{"type":"square","size":50,"color":"black","opacity":1,"clip":false},
    "encoding":{"y":{"field":"y","type":"quantitative","scale":{"domain":[13,16],"nice":false,"zero":false,"range":[33,0]},"axis":{"orient":"left","values":[13,14,16],"labelExpr":"datum.value == 13 ? '' : datum.label","title":"R²=0.0125","titleAngle":0,"titleX":12,"titleY":6,"titleAlign":"left","titleBaseline":"alphabetic","titleFontWeight":"normal","titleFontSize":12}}}}
  ]}
]
}
